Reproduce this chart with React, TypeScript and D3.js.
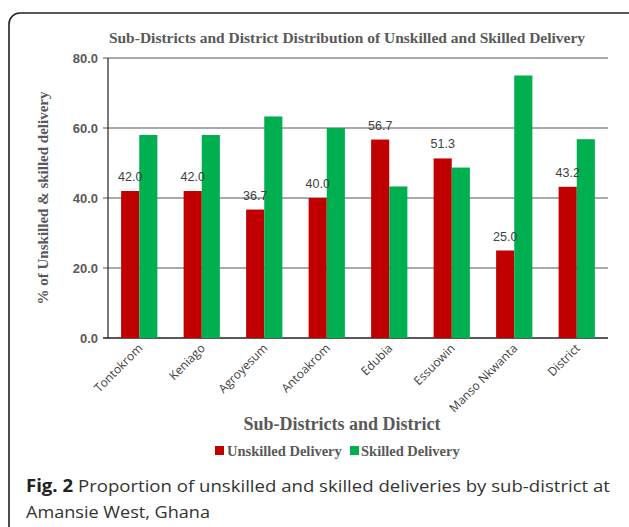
import React from "react";
import * as d3 from "d3";

const districts = ["Tontokrom", "Keniago", "Agroyesum", "Antoakrom", "Edubia", "Essuowin", "Manso Nkwanta", "District"];
const unskilled = [42.0, 42.0, 36.7, 40.0, 56.7, 51.3, 25.0, 43.2];
const skilled = [58.0, 58.0, 63.3, 60.0, 43.3, 48.7, 75.0, 56.8];
const yTicks = [0, 20, 40, 60, 80];
const seriesNames = ["Unskilled Delivery", "Skilled Delivery"];
const seriesColors = ["#C00000", "#00B050"];

const W = 629;
const H = 527;
const plot = { left: 108, right: 608, top: 58, bottom: 338 };

export default function App() {
	const x = d3.scaleBand<string>().domain(districts).range([plot.left, plot.right]).paddingInner(0.42).paddingOuter(0.21);
	const sub = d3.scaleBand<number>().domain([0, 1]).range([0, x.bandwidth()]);
	const y = d3.scaleLinear().domain([0, 80]).range([plot.bottom, plot.top]);
	const serif = "'Liberation Serif', 'Times New Roman', serif";
	const sans = "'Liberation Sans', Arial, sans-serif";

	return (
		<svg width={W} height={H} style={{ position: "absolute", left: 0, top: 0, background: "#fff" }}>
			<rect x={9} y={13} width={640} height={540} rx={11} fill="none" stroke="#222" strokeWidth={1.6} />

			<text x={347} y={43} textAnchor="middle" fontFamily={serif} fontWeight="bold" fontSize={15.5} fill="#595959">
				Sub-Districts and District Distribution of Unskilled and Skilled Delivery
			</text>

			{/* gridlines and y ticks */}
			{yTicks.map((t) => (
				<g key={t}>
					<line x1={plot.left - 5} x2={plot.right} y1={y(t)} y2={y(t)} stroke={t === 0 ? "#222" : "#555"} strokeWidth={t === 0 ? 1.4 : 1} />
					<text x={98} y={y(t)} dy="0.35em" textAnchor="end" fontFamily={sans} fontWeight="bold" fontSize={13} fill="#595959">
						{t.toFixed(1)}
					</text>
				</g>
			))}
			<line x1={plot.left} x2={plot.left} y1={plot.top} y2={plot.bottom} stroke="#222" strokeWidth={1.2} />

			<text transform={`translate(48,198) rotate(-90)`} textAnchor="middle" fontFamily={serif} fontWeight="bold" fontSize={15} fill="#595959">
				% of Unskilled &amp; skilled delivery
			</text>

			{/* bars */}
			{districts.map((d, i) => (
				<g key={d}>
					{[unskilled[i], skilled[i]].map((v, s) => (
						<rect key={s} x={x(d)! + sub(s)!} y={y(v)} width={sub.bandwidth()} height={plot.bottom - y(v)} fill={seriesColors[s]} />
					))}
					<text x={x(d)! + sub(0)! + sub.bandwidth() / 2} y={y(unskilled[i]) - 10} textAnchor="middle" fontFamily={sans} fontSize={12.5} fill="#404040">
						{unskilled[i].toFixed(1)}
					</text>
					<text
						transform={`translate(${x(d)! + x.bandwidth() / 2 + 4},${plot.bottom + 11}) rotate(-45)`}
						textAnchor="end"
						fontFamily="'Open Sans', sans-serif"
						fontSize={12}
						fill="#404040"
					>
						{d}
					</text>
				</g>
			))}

			<text x={342} y={430} textAnchor="middle" fontFamily={serif} fontWeight="bold" fontSize={18} fill="#595959">
				Sub-Districts and District
			</text>

			{/* legend */}
			<rect x={215} y={446} width={9} height={9} fill={seriesColors[0]} />
			<text x={227} y={456} fontFamily={serif} fontWeight="bold" fontSize={14.5} fill="#595959">
				{seriesNames[0]}
			</text>
			<rect x={350} y={446} width={9} height={9} fill={seriesColors[1]} />
			<text x={361} y={456} fontFamily={serif} fontWeight="bold" fontSize={14.5} fill="#595959">
				{seriesNames[1]}
			</text>

			{/* caption */}
			<text x={26} y={492} fontFamily="'Open Sans', sans-serif" fontSize={17} fill="#333" textLength={584} lengthAdjust="spacingAndGlyphs">
				<tspan fontWeight="bold" fill="#222">Fig. 2</tspan> Proportion of unskilled and skilled deliveries by sub-district at
			</text>
			<text x={26} y={518} fontFamily="'Open Sans', sans-serif" fontSize={17} fill="#333" textLength={184} lengthAdjust="spacingAndGlyphs">
				Amansie West, Ghana
			</text>
		</svg>
	);
}
